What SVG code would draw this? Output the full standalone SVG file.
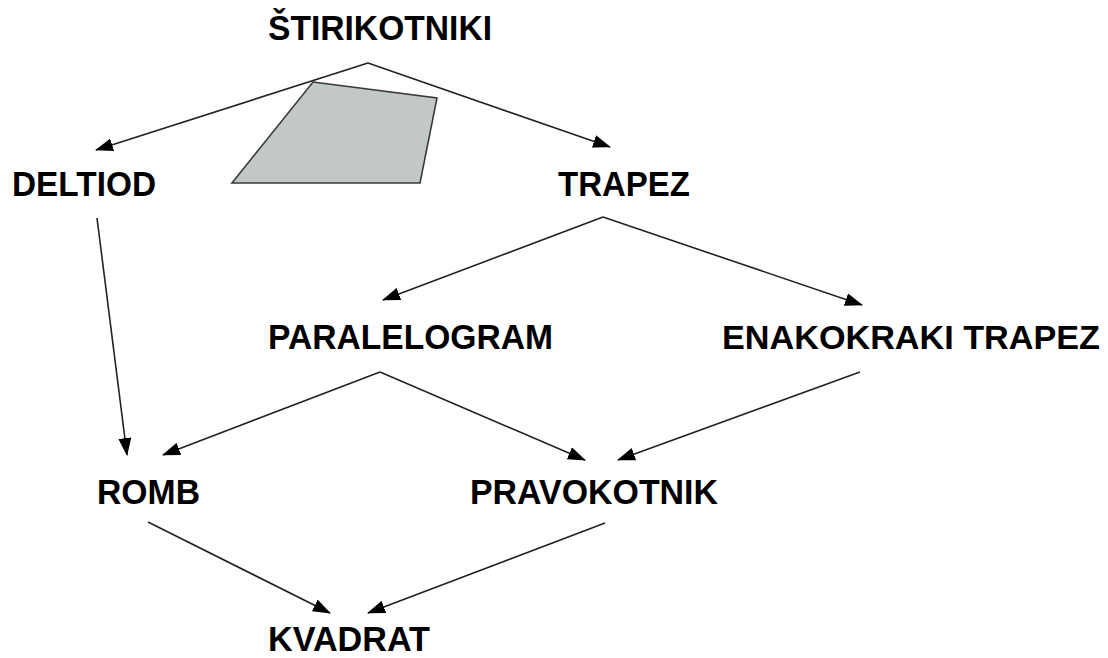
<svg xmlns="http://www.w3.org/2000/svg" width="1108" height="658" viewBox="0 0 1108 658">
<defs>
<marker id="arr" viewBox="0 0 18 13" refX="17" refY="6.5" markerWidth="18" markerHeight="13" markerUnits="userSpaceOnUse" orient="auto">
<path d="M0,0 L18,6.5 L0,13 Z" fill="#000"/>
</marker>
<style>
.lbl{font-family:"Liberation Sans",Arial,sans-serif;font-weight:bold;font-size:35px;fill:#000}
.c path{fill:none;stroke:#222;stroke-width:1.6;marker-end:url(#arr)}
</style>
</defs>
<rect width="1108" height="658" fill="#fff"/>
<g id="shape">
<polygon points="313,82 437,98 420,183 232,183" fill="#c2c8c8" stroke="#3a3a3a" stroke-width="1.6"/>
</g>
<g id="connectors" class="c">
<path d="M368,63 L96,150"/>
<path d="M368,63 L610,147"/>
<path d="M97,218 L127,455"/>
<path d="M603,217 L383,300"/>
<path d="M603,217 L862,305"/>
<path d="M380,372 L163,455"/>
<path d="M380,372 L585,460"/>
<path d="M860,372 L618,460"/>
<path d="M148,522 L330,613"/>
<path d="M605,523 L368,613"/>
</g>
<g id="n-stirikotniki"><text class="lbl" x="268" y="40" textLength="224" lengthAdjust="spacingAndGlyphs">ŠTIRIKOTNIKI</text></g>
<g id="n-deltiod"><text class="lbl" x="12" y="196" textLength="144" lengthAdjust="spacingAndGlyphs">DELTIOD</text></g>
<g id="n-trapez"><text class="lbl" x="558" y="196" textLength="132" lengthAdjust="spacingAndGlyphs">TRAPEZ</text></g>
<g id="n-paralelogram"><text class="lbl" x="268" y="349" textLength="285" lengthAdjust="spacingAndGlyphs">PARALELOGRAM</text></g>
<g id="n-enakokraki"><text class="lbl" x="722" y="349" style="font-size:34px" textLength="378" lengthAdjust="spacingAndGlyphs">ENAKOKRAKI TRAPEZ</text></g>
<g id="n-romb"><text class="lbl" x="97" y="504" textLength="103" lengthAdjust="spacingAndGlyphs">ROMB</text></g>
<g id="n-pravokotnik"><text class="lbl" x="470" y="504" textLength="248" lengthAdjust="spacingAndGlyphs">PRAVOKOTNIK</text></g>
<g id="n-kvadrat"><text class="lbl" x="268" y="651" textLength="162" lengthAdjust="spacingAndGlyphs">KVADRAT</text></g>
</svg>
